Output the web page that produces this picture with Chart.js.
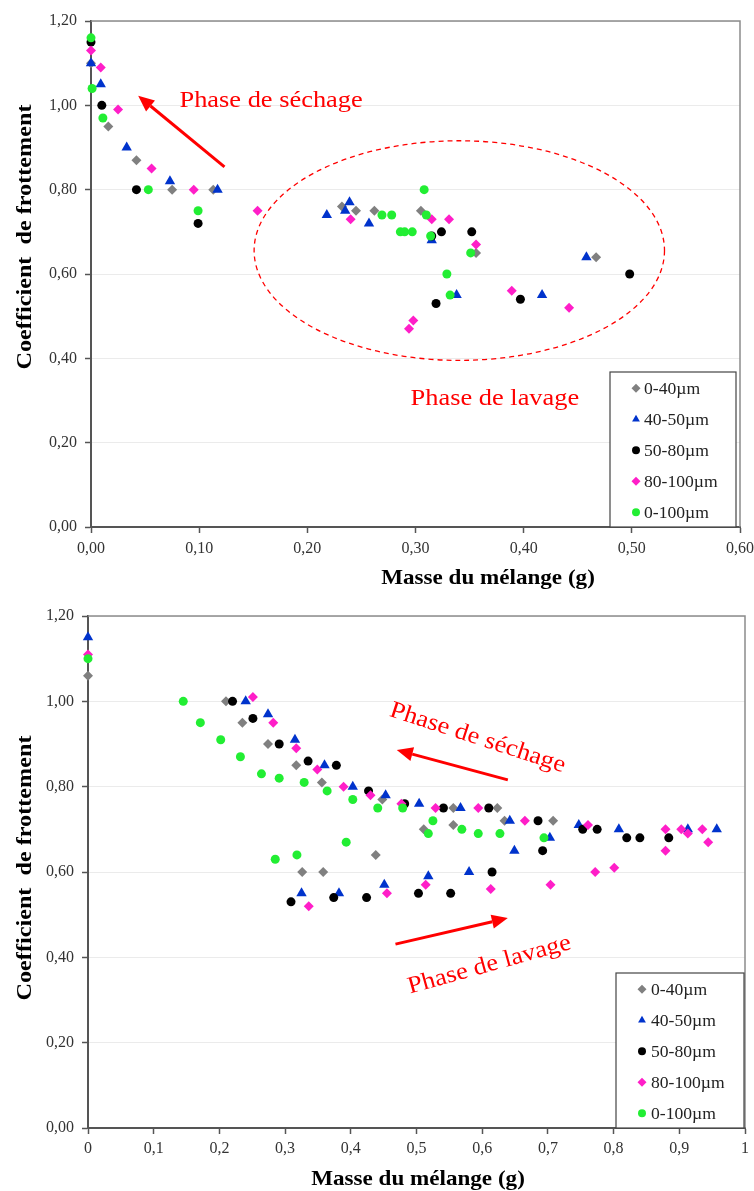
<!DOCTYPE html>
<html>
<head>
<meta charset="utf-8">
<script src="https://cdn.jsdelivr.net/npm/chart.js@4.4.1/dist/chart.umd.min.js"></script>
<style>
  body { margin: 0; background: #fff; }
  .wrap { position: absolute; left: 0; }
</style>
</head>
<body>
<div class="wrap" style="top:0"><canvas id="topChart" width="754" height="600"></canvas></div>
<div class="wrap" style="top:600px"><canvas id="botChart" width="754" height="591"></canvas></div>
<script>
// series names, colours and marker shapes
var seriesNames = ["0-40µm", "40-50µm", "50-80µm", "80-100µm", "0-100µm"];
var seriesColors = ["#808080", "#0033cc", "#000000", "#ff1ec8", "#22ee33"];
var seriesShapes = ["rectRot", "triangle", "circle", "rectRot", "circle"];
var seriesRadius = [5, 6, 4.5, 5, 4.5];

// top chart : [masse, coefficient]
var topGray = [[0, 1.10], [0.016, 0.95], [0.042, 0.87], [0.075, 0.80], [0.113, 0.80], [0.232, 0.76], [0.245, 0.75], [0.262, 0.75], [0.305, 0.75], [0.356, 0.65], [0.467, 0.64]];
var topBlue = [[0, 1.10], [0.009, 1.05], [0.033, 0.90], [0.073, 0.82], [0.117, 0.80], [0.218, 0.74], [0.235, 0.75], [0.239, 0.77], [0.257, 0.72], [0.315, 0.68], [0.338, 0.55], [0.417, 0.55], [0.458, 0.64]];
var topBlack = [[0, 1.15], [0.010, 1.00], [0.042, 0.80], [0.099, 0.72], [0.315, 0.69], [0.324, 0.70], [0.352, 0.70], [0.319, 0.53], [0.397, 0.54], [0.498, 0.60]];
var topPink = [[0, 1.13], [0.009, 1.09], [0.025, 0.99], [0.056, 0.85], [0.095, 0.80], [0.154, 0.75], [0.240, 0.73], [0.315, 0.73], [0.331, 0.73], [0.356, 0.67], [0.294, 0.47], [0.298, 0.49], [0.389, 0.56], [0.442, 0.52]];
var topGreen = [[0, 1.16], [0.001, 1.04], [0.011, 0.97], [0.053, 0.80], [0.099, 0.75], [0.269, 0.74], [0.278, 0.74], [0.286, 0.70], [0.290, 0.70], [0.297, 0.70], [0.308, 0.80], [0.310, 0.74], [0.314, 0.69], [0.329, 0.60], [0.332, 0.55], [0.351, 0.65]];

// bottom chart
var botGray = [[0, 1.06], [0.210, 1.00], [0.235, 0.95], [0.274, 0.90], [0.317, 0.85], [0.356, 0.81], [0.448, 0.77], [0.556, 0.75], [0.623, 0.75], [0.634, 0.72], [0.708, 0.72], [0.511, 0.70], [0.556, 0.71], [0.438, 0.64], [0.326, 0.60], [0.358, 0.60]];
var botBlue = [[0, 1.15], [0.240, 1.00], [0.274, 0.97], [0.315, 0.91], [0.360, 0.85], [0.403, 0.80], [0.453, 0.78], [0.504, 0.76], [0.567, 0.75], [0.642, 0.72], [0.747, 0.71], [0.808, 0.70], [0.913, 0.70], [0.957, 0.70], [0.703, 0.68], [0.649, 0.65], [0.580, 0.60], [0.518, 0.59], [0.451, 0.57], [0.382, 0.55], [0.325, 0.55]];
var botBlack = [[0.220, 1.00], [0.251, 0.96], [0.291, 0.90], [0.335, 0.86], [0.378, 0.85], [0.427, 0.79], [0.482, 0.76], [0.541, 0.75], [0.610, 0.75], [0.685, 0.72], [0.753, 0.70], [0.775, 0.70], [0.820, 0.68], [0.840, 0.68], [0.884, 0.68], [0.692, 0.65], [0.615, 0.60], [0.552, 0.55], [0.503, 0.55], [0.424, 0.54], [0.374, 0.54], [0.309, 0.53]];
var botPink = [[0, 1.11], [0.251, 1.01], [0.282, 0.95], [0.317, 0.89], [0.349, 0.84], [0.389, 0.80], [0.430, 0.78], [0.477, 0.76], [0.529, 0.75], [0.594, 0.75], [0.665, 0.72], [0.761, 0.71], [0.879, 0.70], [0.903, 0.70], [0.913, 0.69], [0.935, 0.70], [0.944, 0.67], [0.879, 0.65], [0.801, 0.61], [0.772, 0.60], [0.704, 0.57], [0.613, 0.56], [0.514, 0.57], [0.455, 0.55], [0.336, 0.52]];
var botGreen = [[0, 1.10], [0.145, 1.00], [0.171, 0.95], [0.202, 0.91], [0.232, 0.87], [0.264, 0.83], [0.291, 0.82], [0.329, 0.81], [0.364, 0.79], [0.403, 0.77], [0.441, 0.75], [0.479, 0.75], [0.525, 0.72], [0.518, 0.69], [0.569, 0.70], [0.594, 0.69], [0.627, 0.69], [0.694, 0.68], [0.393, 0.67], [0.318, 0.64], [0.285, 0.63]];

var FONT = '"Liberation Serif", "Times New Roman", serif';
var SX = 1.1; // text in the picture is a bit wider than Times

function drawText(ctx, s, x, y, font, color, rot, align, base) {
  ctx.save();
  ctx.translate(x, y);
  ctx.rotate((rot || 0) * Math.PI / 180);
  ctx.scale(SX, 1);
  ctx.font = font;
  ctx.fillStyle = color;
  ctx.textAlign = align || "center";
  ctx.textBaseline = base || "middle";
  ctx.fillText(s, 0, 0);
  ctx.restore();
}

function drawArrow(ctx, x1, y1, x2, y2) {
  var a = Math.atan2(y2 - y1, x2 - x1), L = 16, W = 7;
  var bx = x2 - L * Math.cos(a), by = y2 - L * Math.sin(a);
  ctx.save();
  ctx.strokeStyle = ctx.fillStyle = "#ff0000";
  ctx.lineWidth = 3;
  ctx.beginPath();
  ctx.moveTo(x1, y1);
  ctx.lineTo(bx, by);
  ctx.stroke();
  ctx.beginPath();
  ctx.moveTo(x2, y2);
  ctx.lineTo(bx + W * Math.sin(a), by - W * Math.cos(a));
  ctx.lineTo(bx - W * Math.sin(a), by + W * Math.cos(a));
  ctx.closePath();
  ctx.fill();
  ctx.restore();
}

function decorPlugin(cfg) {
  return {
    id: "decor",
    beforeDatasetsDraw: function (chart) {
      var a = chart.chartArea, ctx = chart.ctx;
      ctx.save();
      ctx.strokeStyle = "#8c8c8c";
      ctx.lineWidth = 1.5;
      ctx.beginPath();
      ctx.moveTo(a.left, a.top);
      ctx.lineTo(a.right, a.top);
      ctx.lineTo(a.right, a.bottom);
      ctx.stroke();
      ctx.restore();
    },
    afterDraw: function (chart) {
      var ctx = chart.ctx, a = chart.chartArea;
      var sx = chart.scales.x, sy = chart.scales.y;

      if (cfg.ellipse) {
        var e = cfg.ellipse;
        var cx = sx.getPixelForValue(e[0]), cy = sy.getPixelForValue(e[1]);
        var rx = Math.abs(sx.getPixelForValue(e[0] + e[2]) - cx);
        var ry = Math.abs(sy.getPixelForValue(e[1] + e[3]) - cy);
        ctx.save();
        ctx.strokeStyle = "#ff0000";
        ctx.lineWidth = 1.3;
        ctx.setLineDash([5, 4]);
        ctx.beginPath();
        ctx.ellipse(cx, cy, rx, ry, 0, 0, Math.PI * 2);
        ctx.stroke();
        ctx.restore();
      }

      cfg.arrows.forEach(function (r) {
        drawArrow(ctx, sx.getPixelForValue(r[0]), sy.getPixelForValue(r[1]),
          sx.getPixelForValue(r[2]), sy.getPixelForValue(r[3]));
      });

      cfg.notes.forEach(function (n) {
        drawText(ctx, n.t, sx.getPixelForValue(n.x), sy.getPixelForValue(n.y),
          "24px " + FONT, "#ff0000", n.rot);
      });

      // axis titles
      drawText(ctx, "Masse du mélange (g)", cfg.xTitle[0], cfg.xTitle[1], "bold 21px " + FONT, "#000", 0, "center", "alphabetic");
      drawText(ctx, "Coefficient  de frottement", cfg.yTitle[0], cfg.yTitle[1], "bold 22px " + FONT, "#000", -90);

      // legend box in the lower right corner
      var lg = cfg.legend;
      var bx = a.right - lg.gap - lg.w, by = a.bottom - lg.h;
      ctx.save();
      ctx.fillStyle = "#fff";
      ctx.fillRect(bx, by, lg.w, lg.h);
      ctx.strokeStyle = "#444";
      ctx.lineWidth = 1.2;
      ctx.strokeRect(bx, by, lg.w, lg.h);
      seriesNames.forEach(function (name, i) {
        var yy = by + lg.first + i * lg.step;
        ctx.fillStyle = seriesColors[i];
        Chart.helpers.drawPoint(ctx, {
          pointStyle: seriesShapes[i], radius: seriesShapes[i] == "circle" ? 4 : 4.5,
          rotation: 0, borderWidth: 0
        }, bx + lg.mark, yy);
        drawText(ctx, name, bx + lg.text, yy + 1, "16px " + FONT, "#222", 0, "left");
      });
      ctx.restore();
    }
  };
}

function makeDatasets(list) {
  return list.map(function (pts, i) {
    return {
      label: seriesNames[i],
      data: pts,
      pointStyle: seriesShapes[i],
      pointRadius: seriesRadius[i],
      pointHoverRadius: seriesRadius[i],
      backgroundColor: seriesColors[i],
      borderColor: seriesColors[i],
      borderWidth: 0,
      order: 5 - i,
      clip: false
    };
  });
}

function makeChart(id, sets, cfg) {
  return new Chart(document.getElementById(id), {
    type: "scatter",
    data: { datasets: makeDatasets(sets) },
    options: {
      responsive: false,
      animation: false,
      layout: { padding: cfg.pad },
      plugins: { legend: { display: false }, tooltip: { enabled: false } },
      scales: {
        x: {
          type: "linear",
          min: 0,
          max: cfg.xMax,
          ticks: {
            stepSize: 0.1,
            autoSkip: false,
            maxRotation: 0,
            padding: cfg.xPad,
            color: "#333",
            font: { family: FONT, size: 16 },
            callback: cfg.xFmt
          },
          grid: { drawOnChartArea: false, tickLength: 6, tickColor: "#555", tickWidth: 1.5 },
          border: { color: "#555", width: 2 },
          afterFit: function (s) { s.height = cfg.bottom; s.paddingLeft = 0; s.paddingRight = 0; }
        },
        y: {
          min: 0,
          max: 1.2,
          ticks: {
            stepSize: 0.2,
            padding: 8,
            color: "#333",
            font: { family: FONT, size: 16 },
            callback: function (v) { return v.toFixed(2).replace(".", ","); }
          },
          grid: { color: "#ebebeb", lineWidth: 1, tickLength: 6, tickColor: "#555", tickWidth: 1.5 },
          border: { color: "#555", width: 2 },
          afterFit: function (s) { s.width = cfg.left; s.paddingTop = 0; s.paddingBottom = 0; }
        }
      }
    },
    plugins: [decorPlugin(cfg)]
  });
}

makeChart("topChart", [topGray, topBlue, topBlack, topPink, topGreen], {
  left: 91, bottom: 73, xMax: 0.6, xPad: 6,
  pad: { top: 21, right: 14, left: 0, bottom: 0 },
  xFmt: function (v) { return v.toFixed(2).replace(".", ","); },
  xTitle: [488, 584], yTitle: [25, 237],
  ellipse: [0.3405, 0.6556, 0.1897, 0.2604],
  arrows: [[0.1234, 0.854, 0.0436, 1.0225]],
  notes: [
    { t: "Phase de séchage", x: 0.1665, y: 1.0107, rot: 0 },
    { t: "Phase de lavage", x: 0.3734, y: 0.3036, rot: 0 }
  ],
  legend: { w: 126, h: 155, gap: 4, first: 16.3, step: 31, mark: 26, text: 34 }
});

makeChart("botChart", [botGray, botBlue, botBlack, botPink, botGreen], {
  left: 88, bottom: 63, xMax: 1, xPad: 5,
  pad: { top: 16, right: 9, left: 0, bottom: 0 },
  xFmt: function (v) {
    if (Math.abs(v) < 1e-9) return "0";
    if (Math.abs(v - 1) < 1e-9) return "1";
    return v.toFixed(1).replace(".", ",");
  },
  xTitle: [418, 585], yTitle: [25, 268],
  ellipse: null,
  arrows: [[0.639, 0.816, 0.470, 0.886], [0.468, 0.431, 0.639, 0.492]],
  notes: [
    { t: "Phase de séchage", x: 0.593, y: 0.914, rot: 18 },
    { t: "Phase de lavage", x: 0.611, y: 0.382, rot: -15.5 }
  ],
  legend: { w: 128, h: 155, gap: 1, first: 16.3, step: 31, mark: 26, text: 35 }
});
</script>
</body>
</html>
